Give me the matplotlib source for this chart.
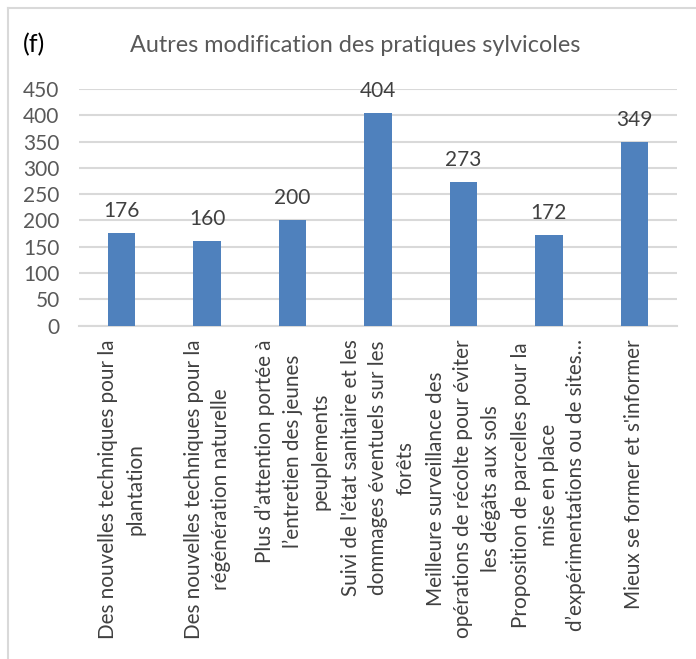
import matplotlib
matplotlib.use("Agg")
import matplotlib.pyplot as plt
from matplotlib.lines import Line2D

plt.rcParams['font.family'] = ['Lato', 'DejaVu Sans']

categories = [
    "Des nouvelles techniques pour la\nplantation",
    "Des nouvelles techniques pour la\nrégénération naturelle",
    "Plus d’attention portée à\nl’entretien des jeunes\npeuplements",
    "Suivi de l'état sanitaire et les\ndommages éventuels sur les\nforêts",
    "Meilleure surveillance des\nopérations de récolte pour éviter\nles dégâts aux sols",
    "Proposition de parcelles pour la\nmise en place\nd’expérimentations ou de sites…",
    "Mieux se former et s'informer",
]
values = [176, 160, 200, 404, 273, 172, 349]
yticks = [0, 50, 100, 150, 200, 250, 300, 350, 400, 450]
title = "Autres modification des pratiques sylvicoles"
panel = "(f)"

W, H = 696, 659
fig = plt.figure(figsize=(W / 100, H / 100), dpi=100)
ax = fig.add_axes([79 / W, 1 - 325.5 / H, (677 - 79) / W, (325.5 - 89) / H])

x = list(range(len(values)))
bars = ax.bar(x, values, width=0.32, color="#4f81bd", zorder=3)

ax.set_ylim(0, 450)
ax.set_xlim(-0.5, len(values) - 0.5)
ax.set_yticks(yticks)
ax.set_yticklabels([str(v) for v in yticks], fontsize=15, color="#595959")
ax.yaxis.grid(True, color="#d9d9d9", linewidth=1.5, zorder=0)
ax.set_axisbelow(True)
for s in ["top", "right", "left"]:
    ax.spines[s].set_visible(False)
ax.spines["bottom"].set_color("#d9d9d9")
ax.spines["bottom"].set_linewidth(1.5)
ax.tick_params(axis="both", length=0)
ax.tick_params(axis="y", pad=14)

ax.set_xticks(x)
ax.set_xticklabels(categories, rotation=90, fontsize=14.9, color="#404040",
                   ha="center", va="top", multialignment="center", linespacing=1.45)
ax.tick_params(axis="x", pad=10)

for xi, v in zip(x, values):
    ax.annotate(str(v), (xi, v), xytext=(0, 11.5), textcoords="offset points",
                ha="center", va="baseline", fontsize=15, color="#404040")

fig.text(355 / W, 1 - 45 / H, title, ha="center", va="center", fontsize=16.8, color="#595959")
fig.text(34 / W, 1 - 45 / H, panel, ha="center", va="center", fontsize=18, color="#000000")

# chart frame
fig.add_artist(Line2D([8 / W, 1], [1 - 8 / H, 1 - 8 / H], transform=fig.transFigure, color="#d9d9d9", lw=1.5))
fig.add_artist(Line2D([8 / W, 8 / W], [0, 1 - 8 / H], transform=fig.transFigure, color="#d9d9d9", lw=1.5))

fig.savefig("out.png", dpi=100)
